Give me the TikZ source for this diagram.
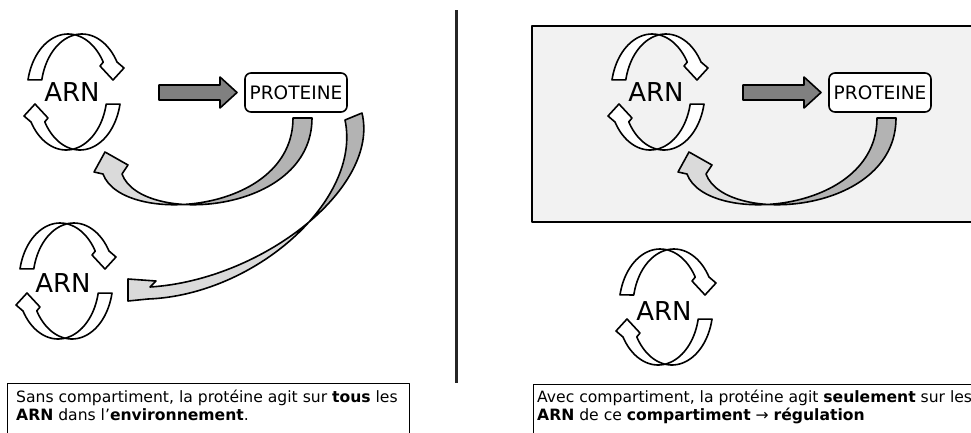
\documentclass[tikz,border=0pt]{standalone}
\usepackage{fontspec}
\setmainfont{DejaVu Sans}
\definecolor{darkg}{HTML}{B3B3B3}
\definecolor{lightg}{HTML}{DADADA}
\definecolor{midg}{HTML}{808080}
\definecolor{compfill}{HTML}{F2F2F2}
\newcommand\halfcyc{plot[domain=192:329, samples=40, variable=\t] ({-5.9+41*cos(\t)},{58*sin(\t)})
  -- (26,-26) -- (39,-12) -- (50,-24) -- (43,-30)
  -- plot[domain=329:192, samples=40, variable=\t] ({7.9+41*cos(\t)},{58*sin(\t)}) -- cycle}
\newcommand\drawcyc[2]{\begin{scope}[shift={(#1,#2)}]
  \path[cycst] \halfcyc; \path[cycst, rotate=180] \halfcyc;\end{scope}}
\newcommand\fbonepath{(312,118) .. controls (312,215) and (141,226) .. (122,174)
  -- (128,165) -- (105,152) -- (94,172) -- (103,174)
  .. controls (122,226) and (293,215) .. (293,118) -- cycle}
\newcommand\fbtwopath{(362,113) .. controls (380,188) and (262,280) .. (150,287)
  -- (156,281) -- (128,279) -- (128,301) -- (148,299)
  .. controls (255,295) and (362,200) .. (345,120) -- cycle}
\newcommand\blockarrow{(159,85) -- (220,85) -- (220,77) -- (237,92.5) -- (220,108) -- (220,100) -- (159,100) -- cycle}
\begin{document}
\begin{tikzpicture}[x=1pt,y=1pt,yscale=-1,line join=round,
  outl/.style={draw=black, line width=1.6pt},
  cycst/.style={outl, fill=white},
  arnlab/.style={font=\fontsize{26}{30}\selectfont, inner sep=0pt},
  prot/.style={outl, rounded corners=6pt, fill=white, minimum width=102pt, minimum height=39pt, inner sep=0pt, font=\fontsize{18.5}{22}\selectfont},
  barrow/.style={outl, fill=midg},
  capbox/.style={draw=black, line width=1pt},
  captxt/.style={anchor=north west, inner sep=0pt, align=left, font=\fontsize{15.6}{17.5}\selectfont}]
\useasboundingbox (0,0) rectangle (971,432);
\fill[white] (0,0) rectangle (971,432);

% divider
\draw[line width=3pt, draw=black!85] (456,10) -- (456,383);

% ---------- left half ----------
\drawcyc{74}{92}
\node[arnlab] (arn1) at (72,92) {ARN};
\node[prot] (prot1) at (296,92.5) {PROTEINE};
\draw[barrow] \blockarrow;
\drawcyc{66}{281}
\node[arnlab] (arn2) at (63,283) {ARN};

\fill[lightg] \fbonepath;
\begin{scope}\clip (183,100) rectangle (400,260); \fill[darkg] \fbonepath; \end{scope}
\draw[outl] \fbonepath;

\fill[lightg] \fbtwopath;
\begin{scope}\clip (300,100) rectangle (420,222); \fill[darkg] \fbtwopath; \end{scope}
\draw[outl] \fbtwopath;

\draw[capbox] (7,440) -- (7,383) -- (409,383) -- (409,440);
\node[captxt] (cap1) at (16,390) {Sans compartiment, la protéine agit sur \textbf{tous} les\\\textbf{ARN} dans l’\textbf{environnement}.};

% ---------- right half ----------
\draw[outl, fill=compfill] (532,26) rectangle (975,222);
\begin{scope}[shift={(584,0)}]
  \drawcyc{74}{92}
  \node[arnlab] (arn3) at (72,92) {ARN};
  \node[prot] (prot2) at (296,92.5) {PROTEINE};
  \draw[barrow] \blockarrow;
  \fill[lightg] \fbonepath;
  \begin{scope}\clip (183,100) rectangle (400,260); \fill[darkg] \fbonepath; \end{scope}
  \draw[outl] \fbonepath;
\end{scope}
\drawcyc{666}{307}
\node[arnlab] (arn4) at (664,311) {ARN};

\draw[capbox] (533,440) -- (533,384) -- (975,384);
\node[captxt] (cap2) at (537,390) {Avec compartiment, la protéine agit \textbf{seulement} sur les\\\textbf{ARN} de ce \textbf{compartiment} → \textbf{régulation}};
\end{tikzpicture}
\end{document}
